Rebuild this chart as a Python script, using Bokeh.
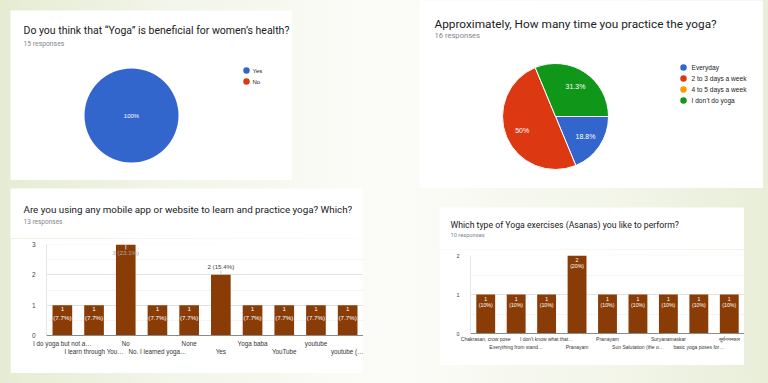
import decimal
import numpy as np
from bokeh.plotting import figure
from bokeh.models import (Range1d, Label, LinearAxis, FixedTicker,
                          SingleIntervalTicker, Spacer, ColumnDataSource)
from bokeh.layouts import row, column
from bokeh.core.properties import value
from bokeh.embed import file_html
from bokeh.resources import INLINE

# ---------------- data ----------------
q1_title = "Do you think that “Yoga” is beneficial for women’s health?"
q1_responses = "15 responses"
q1_options = ["Yes", "No"]
q1_counts = [15, 0]

q2_title = "Approximately, How many time you practice the yoga?"
q2_responses = "16 responses"
q2_options = ["Everyday", "2 to 3 days a week", "4 to 5 days a week", "I don’t do yoga"]
q2_counts = [3, 8, 0, 5]

q3_title = "Are you using any mobile app or website to learn and practice yoga? Which?"
q3_responses = "13 responses"
q3_total = 13
q3_answers = ["I do yoga but not a…", "I learn through You…", "No", "No. I learned yoga…",
              "None", "Yes", "Yoga baba", "YouTube", "youtube", "youtube (…"]
q3_counts = [1, 1, 3, 1, 1, 2, 1, 1, 1, 1]
q3_ymax = 3

q4_title = "Which type of Yoga exercises (Asanas) you like to perform?"
q4_responses = "10 responses"
q4_total = 10
q4_answers = ["Chakrasan, crow pose", "Everything from stand…", "I don't know what that…",
              "Pranayam", "Pranayam", "Sun Salutation (the o…", "Suryanamaskar",
              "basic yoga poses for…", "सूर्यनमस्कार"]
q4_counts = [1, 1, 1, 2, 1, 1, 1, 1, 1]
q4_ymax = 2

pie_colors = ["#3366cc", "#dc3912", "#ff9900", "#109618"]
bar_color = "#8a3c06"

TITLE_FONT = "Roboto"
CHART_FONT = "Liberation Sans"
TITLE_COLOR = "#202124"
SUB_COLOR = "#80868b"


def pct_text(count, total):
    d = decimal.Decimal(count * 100) / decimal.Decimal(total)
    d = d.quantize(decimal.Decimal("0.1"), rounding=decimal.ROUND_HALF_UP)
    s = format(d, "f")
    if s.endswith(".0"):
        s = s[:-2]
    return s + "%"


def blank_fig(W, H, x_range, y_range):
    return figure(width=W, height=H, x_range=x_range, y_range=y_range,
                  x_axis_type=None, y_axis_type=None, toolbar_location=None,
                  output_backend="svg", min_border=0, outline_line_color=None,
                  background_fill_color="white", border_fill_color="white",
                  frame_align=False)


def add_titles(p, H, title, sub, t_off, s_off, tsize, ssize):
    # offsets are measured from the card's top-left corner (frame == canvas)
    p.add_layout(Label(x=t_off[0], y=H - t_off[1], x_units="screen", y_units="screen",
                       text=title, text_font=TITLE_FONT, text_font_size=tsize,
                       text_color=TITLE_COLOR, text_baseline="middle"))
    p.add_layout(Label(x=s_off[0], y=H - s_off[1], x_units="screen", y_units="screen",
                       text=sub, text_font=TITLE_FONT, text_font_size=ssize,
                       text_color=SUB_COLOR, text_baseline="middle"))


def pie_card(W, H, cx, cy, r, options, counts, title, sub, t_off, s_off, tsize, ssize,
             legend_x, legend_y0, legend_step, legend_gap, legend_size, label_size, dot):
    p = blank_fig(W, H, Range1d(-cx, W - cx), Range1d(-(H - cy), cy))
    add_titles(p, H, title, sub, t_off, s_off, tsize, ssize)
    total = sum(counts)
    fr = np.array(counts, dtype=float) / total
    cum = np.concatenate([[0.0], np.cumsum(fr)])
    start = -2 * np.pi * cum[:-1]
    end = -2 * np.pi * cum[1:]
    keep = fr > 0
    cols = [pie_colors[i] for i in range(len(counts))]
    src = ColumnDataSource(dict(start=start[keep], end=end[keep],
                                color=[c for c, k in zip(cols, keep) if k]))
    multi = keep.sum() > 1
    p.wedge(x=0, y=0, radius=r, start_angle="start", end_angle="end", direction="clock",
            fill_color="color", line_color="white" if multi else None, line_width=1, source=src)
    mid = (start + end) / 2
    lx = np.where(fr >= 1, 0.0, 0.68 * r * np.cos(mid))
    ly = np.where(fr >= 1, 0.0, 0.68 * r * np.sin(mid))
    lsrc = ColumnDataSource(dict(x=lx[keep], y=ly[keep],
                                 t=[pct_text(c, total) for c, k in zip(counts, keep) if k]))
    p.text(x="x", y="y", text="t", source=lsrc, text_color="white", text_align="center",
           text_baseline="middle", text_font=value(CHART_FONT), text_font_size=label_size)
    # legend
    n = len(options)
    ys = [cy - (legend_y0 + i * legend_step) for i in range(n)]
    dsrc = ColumnDataSource(dict(x=[legend_x - cx] * n, y=ys, color=cols, t=options,
                                 tx=[legend_x - cx + legend_gap] * n))
    p.scatter(x="x", y="y", size=dot, marker="circle", fill_color="color", line_color=None,
              source=dsrc)
    p.text(x="tx", y="y", text="t", source=dsrc, text_color="#222222", text_align="left",
           text_baseline="middle", text_font=value(CHART_FONT), text_font_size=legend_size)
    return p


def bar_card(W, H, head, left, top, bottom, cats, counts, total, ymax, title, sub, t_off,
             s_off, tsize, ssize, tick_size, cat_size, val_size, st1, st2, val_offs,
             two_line_max):
    ph = blank_fig(W, head, Range1d(0, 1), Range1d(0, 1))
    add_titles(ph, head, title, sub, t_off, s_off, tsize, ssize)

    n = len(cats)
    xs = list(range(n))
    HB = H - head
    p = figure(width=W, height=HB, x_range=Range1d(-0.5, n - 0.5),
               y_range=Range1d(0, ymax), toolbar_location=None, output_backend="svg",
               min_border_left=left, min_border_right=0, min_border_top=top,
               min_border_bottom=bottom, outline_line_color=None,
               background_fill_color="white", border_fill_color="white",
               frame_align=False)
    fh = HB - top - bottom
    ppu = fh / ymax
    ticker = SingleIntervalTicker(interval=1, num_minor_ticks=2)
    p.yaxis.ticker = ticker
    p.ygrid.ticker = ticker
    p.ygrid.grid_line_color = "#e3e3e3"
    p.ygrid.minor_grid_line_color = "#f4f4f4"
    p.xgrid.grid_line_color = None
    p.yaxis.axis_line_color = "#e6e6e6"
    p.yaxis.major_tick_line_color = None
    p.yaxis.minor_tick_line_color = None
    p.yaxis.major_label_text_font = CHART_FONT
    p.yaxis.major_label_text_font_size = tick_size
    p.yaxis.major_label_text_color = "#444444"
    p.yaxis.major_label_standoff = 5

    ax1 = p.xaxis[0]
    ax2 = LinearAxis()
    p.add_layout(ax2, "below")
    for ax, parity, st in ((ax1, 0, st1), (ax2, 1, st2)):
        sel = [i for i in xs if i % 2 == parity]
        ax.ticker = FixedTicker(ticks=sel, minor_ticks=[])
        ax.major_label_overrides = {i: cats[i] for i in sel}
        ax.major_tick_line_color = None
        ax.minor_tick_line_color = None
        ax.major_tick_out = 0
        ax.major_tick_in = 0
        ax.major_label_standoff = st
        ax.major_label_text_font = CHART_FONT
        ax.major_label_text_font_size = cat_size
        ax.major_label_text_color = "#333333"
        ax.major_label_orientation = "horizontal"
    ax1.axis_line_color = "#8a8a8a"
    ax2.axis_line_color = None

    p.vbar(x=xs, top=counts, width=0.62, fill_color=bar_color, line_color=None)

    inside = [i for i, c in enumerate(counts) if c <= two_line_max]
    isrc = ColumnDataSource(dict(x=[xs[i] for i in inside], y=[counts[i] for i in inside],
                                 a=[str(counts[i]) for i in inside],
                                 b=["(" + pct_text(counts[i], total) + ")" for i in inside]))
    for col, off in (("a", val_offs[0]), ("b", val_offs[1])):
        p.text(x="x", y="y", text=col, source=isrc, y_offset=off, text_color="white",
               text_align="center", text_baseline="middle", text_font=value(CHART_FONT),
               text_font_size=val_size)

    outside = [i for i, c in enumerate(counts) if c > two_line_max]
    if outside:
        ys, offs, s0, s1, tc = [], [], [], [], []
        for i in outside:
            c = counts[i]
            if c >= ymax:      # no room above the bar: annotation sits at its top
                offs.append(8)
                s1.append(c - 5 / ppu)
                tc.append("#a8a8a8")
            else:
                offs.append(-8)
                s1.append(c + 4.5 / ppu)
                tc.append("#444444")
            s0.append(c)
            ys.append(c)
        osrc = ColumnDataSource(dict(x=[xs[i] for i in outside], y=ys, off=offs,
                                     s0=s0, s1=s1, tc=tc,
                                     t=[f"{counts[i]} ({pct_text(counts[i], total)})"
                                        for i in outside]))
        p.segment(x0="x", y0="s0", x1="x", y1="s1", source=osrc, line_color="#c8c8c8",
                  line_width=1)
        p.text(x="x", y="y", text="t", y_offset="off", source=osrc, text_color="tc",
               text_align="center", text_baseline="middle", text_font=value(CHART_FONT),
               text_font_size=val_size)
    return column(ph, p, spacing=0)


p1 = pie_card(282, 170, 121, 105, 47, q1_options, q1_counts, q1_title, q1_responses,
              (13, 20), (13, 33), "10.5px", "6.8px",
              legend_x=236, legend_y0=60, legend_step=11, legend_gap=6,
              legend_size="6px", label_size="6px", dot=6.5)

p2 = pie_card(344, 188, 136, 116, 53, q2_options, q2_counts, q2_title, q2_responses,
              (15, 23), (15, 35), "11.8px", "7.6px",
              legend_x=264, legend_y0=67, legend_step=11, legend_gap=8,
              legend_size="6.6px", label_size="7px", dot=6.5)

p3 = bar_card(353, 185, 50, 36, 6, 38, q3_answers, q3_counts, q3_total, q3_ymax,
              q3_title, q3_responses, (13, 21), (13, 33), "9.8px", "6.5px",
              "6.5px", "6.3px", "6.2px", 4, -2, (4, 12), 1)

p4 = bar_card(305, 158, 42, 31, 6, 32, q4_answers, q4_counts, q4_total, q4_ymax,
              q4_title, q4_responses, (11, 17), (11, 27), "8.7px", "5.7px",
              "5.5px", "5px", "5.2px", 2, -1, (4, 10), 2)

top_row = row(Spacer(width=10, height=188), column(Spacer(width=282, height=10), p1),
              Spacer(width=127, height=188), p2, Spacer(width=5, height=188))
bottom_row = row(Spacer(width=10, height=185), p3, Spacer(width=76, height=185),
                 column(Spacer(width=305, height=19), p4), Spacer(width=24, height=185))
root = column(top_row, bottom_row, Spacer(width=768, height=10),
              styles={"background": "linear-gradient(90deg, #e6ecd3 0%, #f2f5e9 22%, "
                                    "#fbfcf8 50%, #f3f6ea 78%, #e9eed9 100%)"})

open("out.html", "w").write(file_html(root, INLINE))
